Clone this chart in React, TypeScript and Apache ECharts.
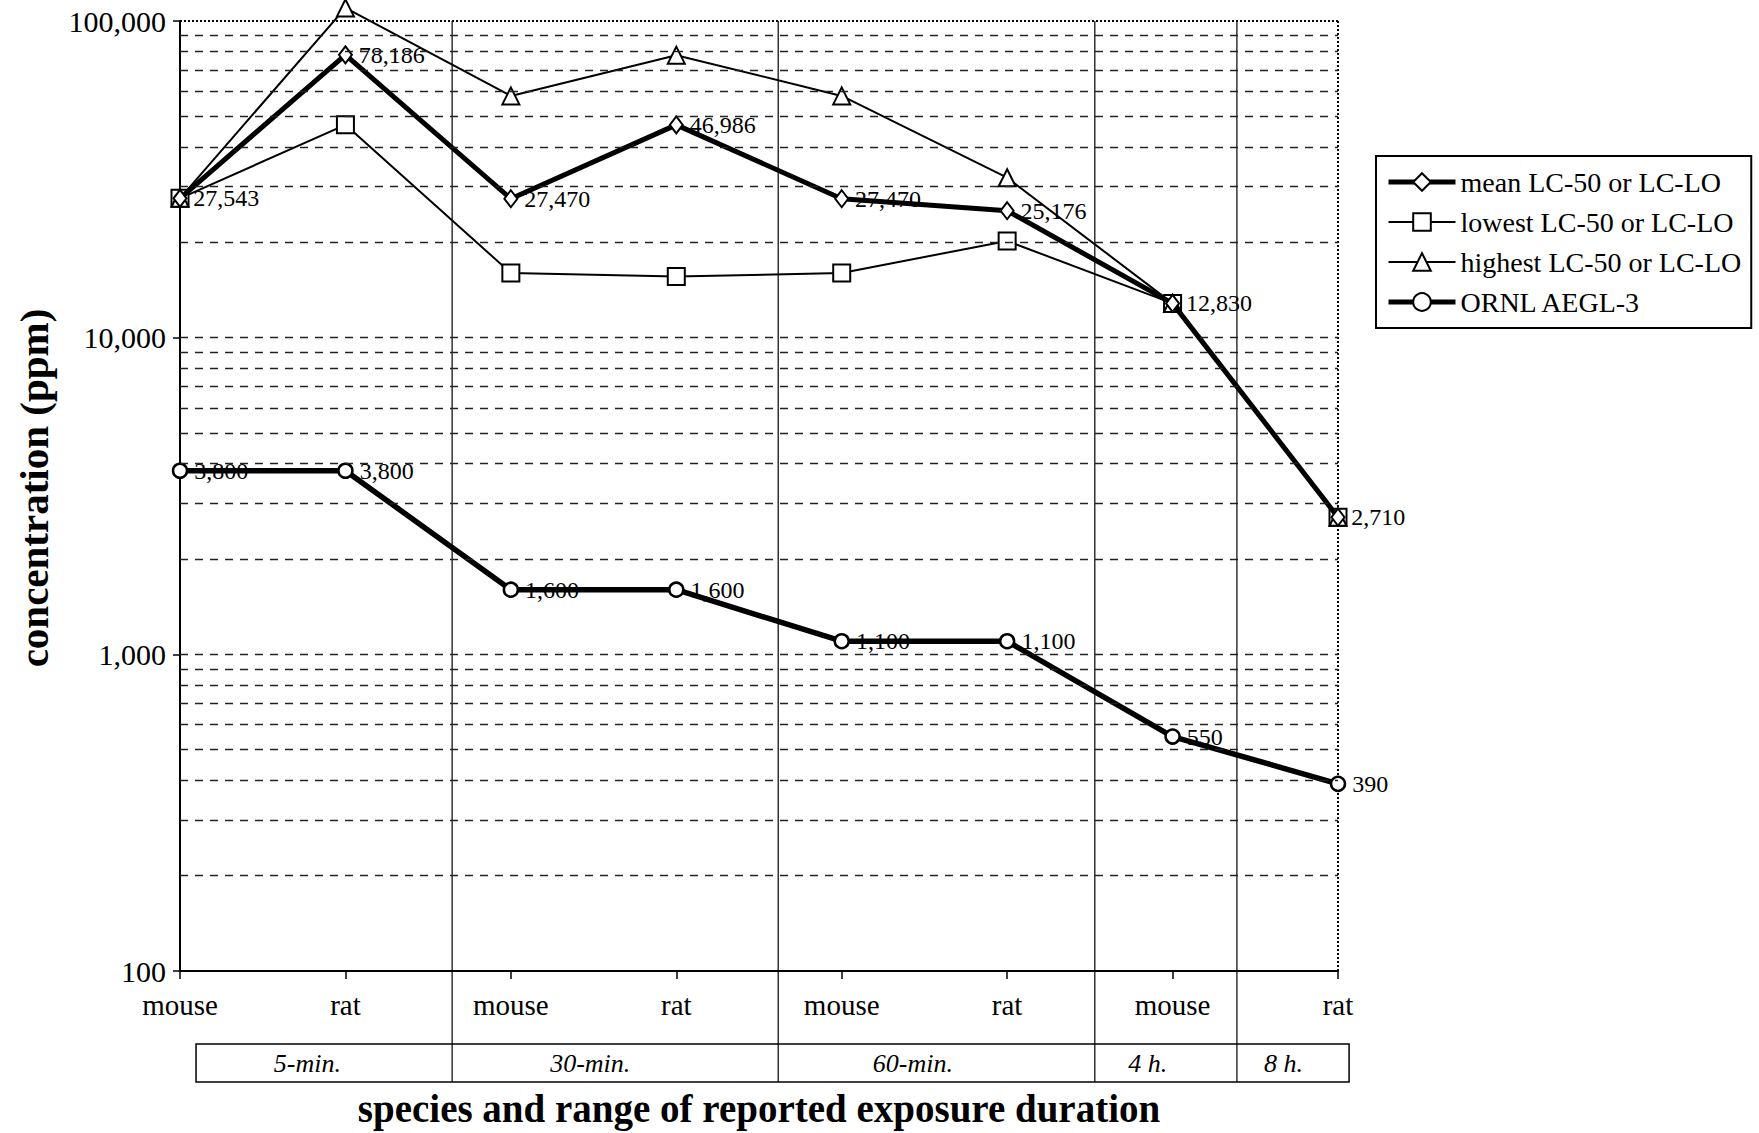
import React, { useEffect, useRef } from "react";
import * as echarts from "echarts";

const FONT = '"Liberation Serif", "Times New Roman", serif';

// ---- data ----
const categories = ["mouse", "rat", "mouse", "rat", "mouse", "rat", "mouse", "rat"];
const meanValues = [27543, 78186, 27470, 46986, 27470, 25176, 12830, 2710];
const lowestValues = [27543, 47000, 16000, 15600, 16000, 20200, 12830, 2710];
const highestValues = [27543, 110000, 58000, 78000, 58000, 32000, 12830, 2710];
const aeglValues = [3800, 3800, 1600, 1600, 1100, 1100, 550, 390];
const seriesNames = ["mean LC-50 or LC-LO", "lowest LC-50 or LC-LO", "highest LC-50 or LC-LO", "ORNL AEGL-3"];
const legendLineWidths = [5, 2, 2, 5];
const gridValues = [
  200, 300, 400, 500, 600, 700, 800, 900, 1000,
  2000, 3000, 4000, 5000, 6000, 7000, 8000, 9000, 10000,
  20000, 30000, 40000, 50000, 60000, 70000, 80000, 90000,
];
const durations = ["5-min.", "30-min.", "60-min.", "4 h.", "8 h."];
// layout (in category-index units along the x axis)
const durationBounds = [0.097, 1.645, 3.616, 5.53, 6.389, 7.067];
const durationLabelPos = [0.77, 2.48, 4.43, 5.85, 6.67];

const fmt = (v: number) => Math.round(v).toLocaleString("en-US");
const pairs = (arr: number[]) => arr.map((v, i) => [i, v]);

export default function App() {
  const ref = useRef<HTMLDivElement>(null);
  useEffect(() => {
    document.body.style.margin = "0";
    const chart = echarts.init(ref.current!, null, { renderer: "svg" });
    const labelCfg = {
      show: true,
      position: "right",
      distance: 6,
      fontFamily: FONT,
      fontSize: 24,
      color: "#000",
      formatter: (p: any) => fmt(p.value[1]),
    };
    const option: any = {
      animation: false,
      backgroundColor: "#fff",
      grid: { left: 180, right: 421, top: 21, bottom: 162 },
      xAxis: {
        type: "value",
        min: 0,
        max: 7,
        interval: 1,
        splitLine: { show: false },
        axisLine: { show: true, onZero: false, lineStyle: { color: "#000", width: 2 } },
        axisTick: { show: true, length: 8, lineStyle: { color: "#000", width: 1.5 } },
        axisLabel: {
          margin: 19,
          fontFamily: FONT,
          fontSize: 29,
          color: "#000",
          showMinLabel: true,
          showMaxLabel: true,
          formatter: (v: number) => categories[Math.round(v)] ?? "",
        },
      },
      yAxis: {
        type: "log",
        logBase: 10,
        min: 100,
        max: 100000,
        splitLine: { show: false },
        axisLine: { show: true, lineStyle: { color: "#000", width: 2 } },
        axisTick: { show: true, length: 7, lineStyle: { color: "#000", width: 1.5 } },
        axisLabel: { margin: 14, fontFamily: FONT, fontSize: 30, color: "#000", formatter: (v: number) => fmt(v) },
      },
      legend: {
        orient: "vertical",
        left: 1376,
        top: 156,
        padding: [12, 10, 12, 10],
        itemGap: 12,
        itemWidth: 67,
        itemHeight: 22,
        borderColor: "#000",
        borderWidth: 2,
        textStyle: { fontFamily: FONT, fontSize: 28, color: "#000" },
        data: seriesNames.map((n, i) => ({ name: n, lineStyle: { width: legendLineWidths[i], color: "#000" } })),
      },
      series: [
        {
          type: "line",
          name: "grid",
          data: [],
          silent: true,
          z: 1,
          markLine: {
            silent: true,
            symbol: ["none", "none"],
            label: { show: false },
            lineStyle: { color: "#222", width: 1.3, type: [8, 7] },
            data: gridValues.map((v) => ({ yAxis: v })),
          },
        },
        {
          type: "line",
          name: seriesNames[1],
          data: pairs(lowestValues),
          clip: false,
          symbol: "rect",
          symbolSize: 17,
          lineStyle: { color: "#000", width: 2 },
          itemStyle: { color: "#fff", borderColor: "#000", borderWidth: 2 },
          z: 3,
        },
        {
          type: "line",
          name: seriesNames[2],
          data: pairs(highestValues),
          clip: false,
          symbol: "triangle",
          symbolSize: 17,
          lineStyle: { color: "#000", width: 2 },
          itemStyle: { color: "#fff", borderColor: "#000", borderWidth: 2 },
          z: 3,
        },
        {
          type: "line",
          name: seriesNames[0],
          data: pairs(meanValues),
          clip: false,
          symbol: "diamond",
          symbolSize: [13, 17],
          lineStyle: { color: "#000", width: 5 },
          itemStyle: { color: "#fff", borderColor: "#000", borderWidth: 2 },
          label: labelCfg,
          z: 4,
        },
        {
          type: "line",
          name: seriesNames[3],
          data: pairs(aeglValues),
          clip: false,
          symbol: "circle",
          symbolSize: 14,
          lineStyle: { color: "#000", width: 5.5 },
          itemStyle: { color: "#fff", borderColor: "#000", borderWidth: 2.5 },
          label: labelCfg,
          z: 4,
        },
      ],
    };
    chart.setOption(option);

    const px = (v: number) => chart.convertToPixel({ xAxisIndex: 0 }, v) as number;
    const py = (v: number) => chart.convertToPixel({ yAxisIndex: 0 }, v) as number;
    const top = py(100000);
    const bottom = py(100);
    const left = px(0);
    const right = px(7);
    const boxTop = bottom + 73;
    const boxH = 38;
    const graphic: any[] = [
      {
        type: "line",
        shape: { x1: left, y1: top, x2: right, y2: top },
        style: { stroke: "#000", lineWidth: 2, lineDash: [2, 2] },
      },
      {
        type: "line",
        shape: { x1: right, y1: top, x2: right, y2: bottom },
        style: { stroke: "#000", lineWidth: 2, lineDash: [2, 2] },
      },
      {
        type: "rect",
        shape: {
          x: px(durationBounds[0]),
          y: boxTop,
          width: px(durationBounds[durationBounds.length - 1]) - px(durationBounds[0]),
          height: boxH,
        },
        style: { fill: "none", stroke: "#000", lineWidth: 1.5 },
      },
    ];
    durationBounds.slice(1, -1).forEach((b) => {
      graphic.push({
        type: "line",
        shape: { x1: px(b), y1: top, x2: px(b), y2: boxTop + boxH },
        style: { stroke: "#000", lineWidth: 1.2 },
      });
    });
    durations.forEach((d, i) => {
      graphic.push({
        type: "text",
        x: px(durationLabelPos[i]),
        y: boxTop + boxH / 2,
        style: {
          text: d,
          fill: "#000",
          fontFamily: FONT,
          fontSize: 26,
          fontStyle: "italic",
          align: "center",
          verticalAlign: "middle",
        },
      });
    });
    graphic.push({
      type: "text",
      x: (left + right) / 2,
      y: bottom + 137,
      style: {
        text: "species and range of reported exposure duration",
        fill: "#000",
        fontFamily: FONT,
        fontSize: 39,
        fontWeight: "bold",
        align: "center",
        verticalAlign: "middle",
      },
    });
    graphic.push({
      type: "text",
      x: 34,
      y: (top + bottom) / 2 - 8,
      rotation: Math.PI / 2,
      style: {
        text: "concentration (ppm)",
        fill: "#000",
        fontFamily: FONT,
        fontSize: 41,
        fontWeight: "bold",
        align: "center",
        verticalAlign: "middle",
      },
    });
    chart.setOption({ graphic });

    return () => chart.dispose();
  }, []);
  return <div ref={ref} style={{ width: 1759, height: 1133 }} />;
}
